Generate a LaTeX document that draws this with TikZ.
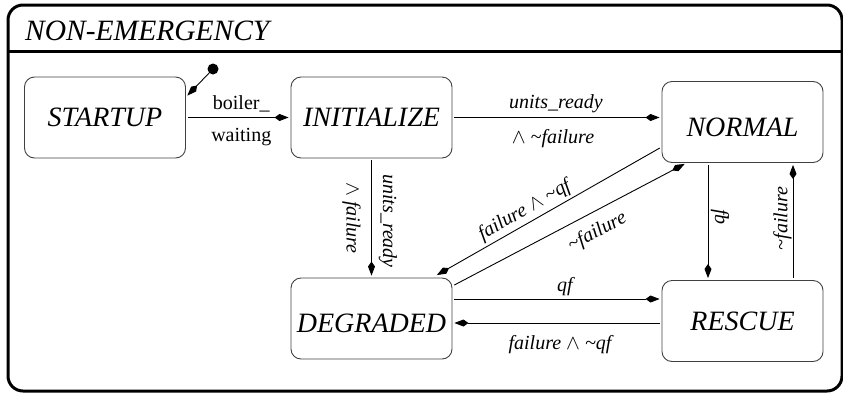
\documentclass[tikz,border=0pt]{standalone}
\usepackage{fontspec}
\setmainfont{Liberation Serif}
\usetikzlibrary{arrows.meta}
\newcommand\lowered[2]{\raisebox{#1}[\height][\depth]{#2}}
\begin{document}
\begin{tikzpicture}[x=1pt,y=-1pt,
  statebox/.style={draw=black!75, line width=0.9pt, rounded corners=10pt,
    minimum width=161pt, minimum height=81pt, inner sep=0pt,
    font=\fontsize{28}{30}\selectfont\itshape},
  trans/.style={draw, line width=0.9pt, -{Kite[length=14pt,width=7pt,inset=5pt]},
    shorten >=2pt, shorten <=2pt},
  lbl/.style={font=\fontsize{20}{22}\selectfont\itshape, inner sep=0pt},
  rlbl/.style={font=\fontsize{20}{22}\selectfont, inner sep=0pt}]
\useasboundingbox (0,0) rectangle (843,397);
% outer super-state
\draw[line width=3pt, rounded corners=15pt] (8,5) rectangle (842,391);
\draw[line width=3pt] (8,51) -- (842,51);
\node[anchor=base west, inner sep=0pt, font=\fontsize{29.5}{31}\selectfont\itshape] (title) at (25,40) {NON-EMERGENCY};
% states
\node[statebox] (startup) at (105,117.5) {STARTUP};
\node[statebox] (init) at (371.5,117.5) {INITIALIZE};
\node[statebox] (normal) at (742.5,122) {\lowered{-5pt}{NORMAL}};
\node[statebox] (degraded) at (371.5,318.5) {\lowered{-5pt}{DEGRADED}};
\node[statebox] (rescue) at (742.5,321) {RESCUE};
% initial pseudo-state
\node[circle, fill, inner sep=0pt, minimum size=11pt] (start0) at (213,69) {};
\draw[trans, shorten <=0pt] (start0) -- ([yshift=20.5pt]startup.east);
% transitions
\draw[trans] (startup.east) -- (init.west)
  node[rlbl, midway, shift={(3,-14)}] {boiler\_}
  node[rlbl, midway, shift={(3,20)}] {waiting};
\draw[trans] (init.east) -- (init.east -| normal.west)
  node[lbl, midway, shift={(-1,-14)}] {units\_ready}
  node[lbl, midway, shift={(-4,21)}] {$\wedge$ \textasciitilde failure};
\draw[trans] (init.south) -- (degraded.north)
  node[lbl, midway, shift={(16.5,3)}, rotate=-90] {units\_ready}
  node[lbl, midway, shift={(-20,0)}, rotate=-90] {$\wedge$ failure};
\draw[trans, shorten >=5pt] ([yshift=-25pt]normal.west) -- ([xshift=61pt]degraded.north)
  node[lbl, pos=.57, sloped, above=3pt] {failure $\wedge$ \textasciitilde qf};
\draw[trans] ([yshift=32.5pt]degraded.east) -- ([xshift=-56pt]normal.south)
  node[lbl, pos=.58, sloped, below=10pt] {\textasciitilde failure};
\draw[trans] ([xshift=-34.5pt]normal.south) -- ([xshift=-34.5pt]rescue.north)
  node[lbl, midway, shift={(12,-4.5)}, rotate=-90] {fb};
\draw[trans] ([xshift=50.5pt]rescue.north) -- ([xshift=50.5pt]normal.south)
  node[lbl, midway, shift={(-10.5,-3)}, rotate=90] {\textasciitilde failure};
\draw[trans] ([yshift=19.5pt]degraded.east) -- ([yshift=19.5pt]degraded.east -| rescue.west)
  node[lbl, midway, shift={(8,-12)}] {qf};
\draw[trans] ([yshift=-2pt]rescue.west) -- ([yshift=-2pt]rescue.west -| degraded.east)
  node[lbl, midway, shift={(3,22)}] {failure $\wedge$ \textasciitilde qf};
\end{tikzpicture}
\end{document}
